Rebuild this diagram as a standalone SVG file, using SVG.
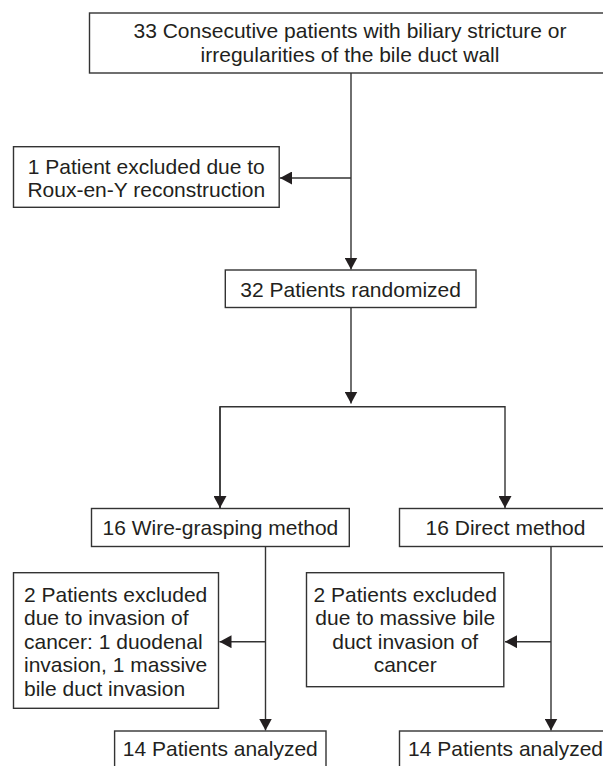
<svg xmlns="http://www.w3.org/2000/svg" width="603" height="766" viewBox="0 0 603 766">
<style>
.box{fill:#fff;stroke:#333;stroke-width:1.4}
.t{font-family:"Liberation Sans",Arial,sans-serif;font-size:21px;fill:#231f20}
.c{text-anchor:middle}
.ln{fill:none;stroke:#333;stroke-width:1.4}
</style>
<defs>
<marker id="ah" markerUnits="userSpaceOnUse" markerWidth="13" markerHeight="13" viewBox="0 0 13 13" refX="12" refY="6.5" orient="auto">
<path d="M0,0 L12,6.5 L0,13 Z" fill="#231f20"/>
</marker>
</defs>
<g id="connectors">
<line class="ln" x1="351" y1="73" x2="351" y2="269.5" marker-end="url(#ah)"/>
<line class="ln" x1="351" y1="178" x2="280" y2="178" marker-end="url(#ah)"/>
<line class="ln" x1="351" y1="307.5" x2="351" y2="403.5" marker-end="url(#ah)"/>
<polyline class="ln" points="220,508 220,406.7 505,406.7 505,508" marker-end="url(#ah)"/>
<line class="ln" x1="220" y1="406.7" x2="220" y2="508" marker-end="url(#ah)"/>
<line class="ln" x1="265.5" y1="546.5" x2="265.5" y2="730.5" marker-end="url(#ah)"/>
<line class="ln" x1="265.5" y1="641.7" x2="219.5" y2="641.7" marker-end="url(#ah)"/>
<line class="ln" x1="551" y1="546.5" x2="551" y2="730.5" marker-end="url(#ah)"/>
<line class="ln" x1="551" y1="641.7" x2="505" y2="641.7" marker-end="url(#ah)"/>
</g>
<g id="n1">
<rect class="box" x="89.5" y="13" width="520" height="60"/>
<text class="t c" x="350" y="37.5">33 Consecutive patients with biliary stricture or</text>
<text class="t c" x="350" y="61.5">irregularities of the bile duct wall</text>
</g>
<g id="n2">
<rect class="box" x="13.5" y="146.7" width="265.7" height="60.6"/>
<text class="t c" x="146.3" y="173.5">1 Patient excluded due to</text>
<text class="t c" x="146.3" y="197">Roux-en-Y reconstruction</text>
</g>
<g id="n3">
<rect class="box" x="225.3" y="270" width="250.7" height="37.5"/>
<text class="t c" x="350.6" y="296.5">32 Patients randomized</text>
</g>
<g id="n4">
<rect class="box" x="91.5" y="508.5" width="257.8" height="38"/>
<text class="t c" x="220.4" y="534.5">16 Wire-grasping method</text>
</g>
<g id="n5">
<rect class="box" x="399.5" y="508.5" width="215" height="38"/>
<text class="t c" x="505.5" y="534.5">16 Direct method</text>
</g>
<g id="n6">
<rect class="box" x="13.5" y="572.7" width="205" height="135.6"/>
<text class="t" x="24" y="601.5">2 Patients excluded</text>
<text class="t" x="24" y="625">due to invasion of</text>
<text class="t" x="24" y="648.5">cancer: 1 duodenal</text>
<text class="t" x="24" y="672">invasion, 1 massive</text>
<text class="t" x="24" y="695.5">bile duct invasion</text>
</g>
<g id="n7">
<rect class="box" x="306.5" y="572.7" width="197.3" height="114"/>
<text class="t c" x="405.2" y="601.5">2 Patients excluded</text>
<text class="t c" x="405.2" y="625">due to massive bile</text>
<text class="t c" x="405.2" y="648.5">duct invasion of</text>
<text class="t c" x="405.2" y="672">cancer</text>
</g>
<g id="n8">
<rect class="box" x="114.6" y="731" width="211.4" height="50"/>
<text class="t c" x="220.3" y="755.5">14 Patients analyzed</text>
</g>
<g id="n9">
<rect class="box" x="399.5" y="731" width="215" height="50"/>
<text class="t c" x="505.5" y="755.5">14 Patients analyzed</text>
</g>
</svg>
